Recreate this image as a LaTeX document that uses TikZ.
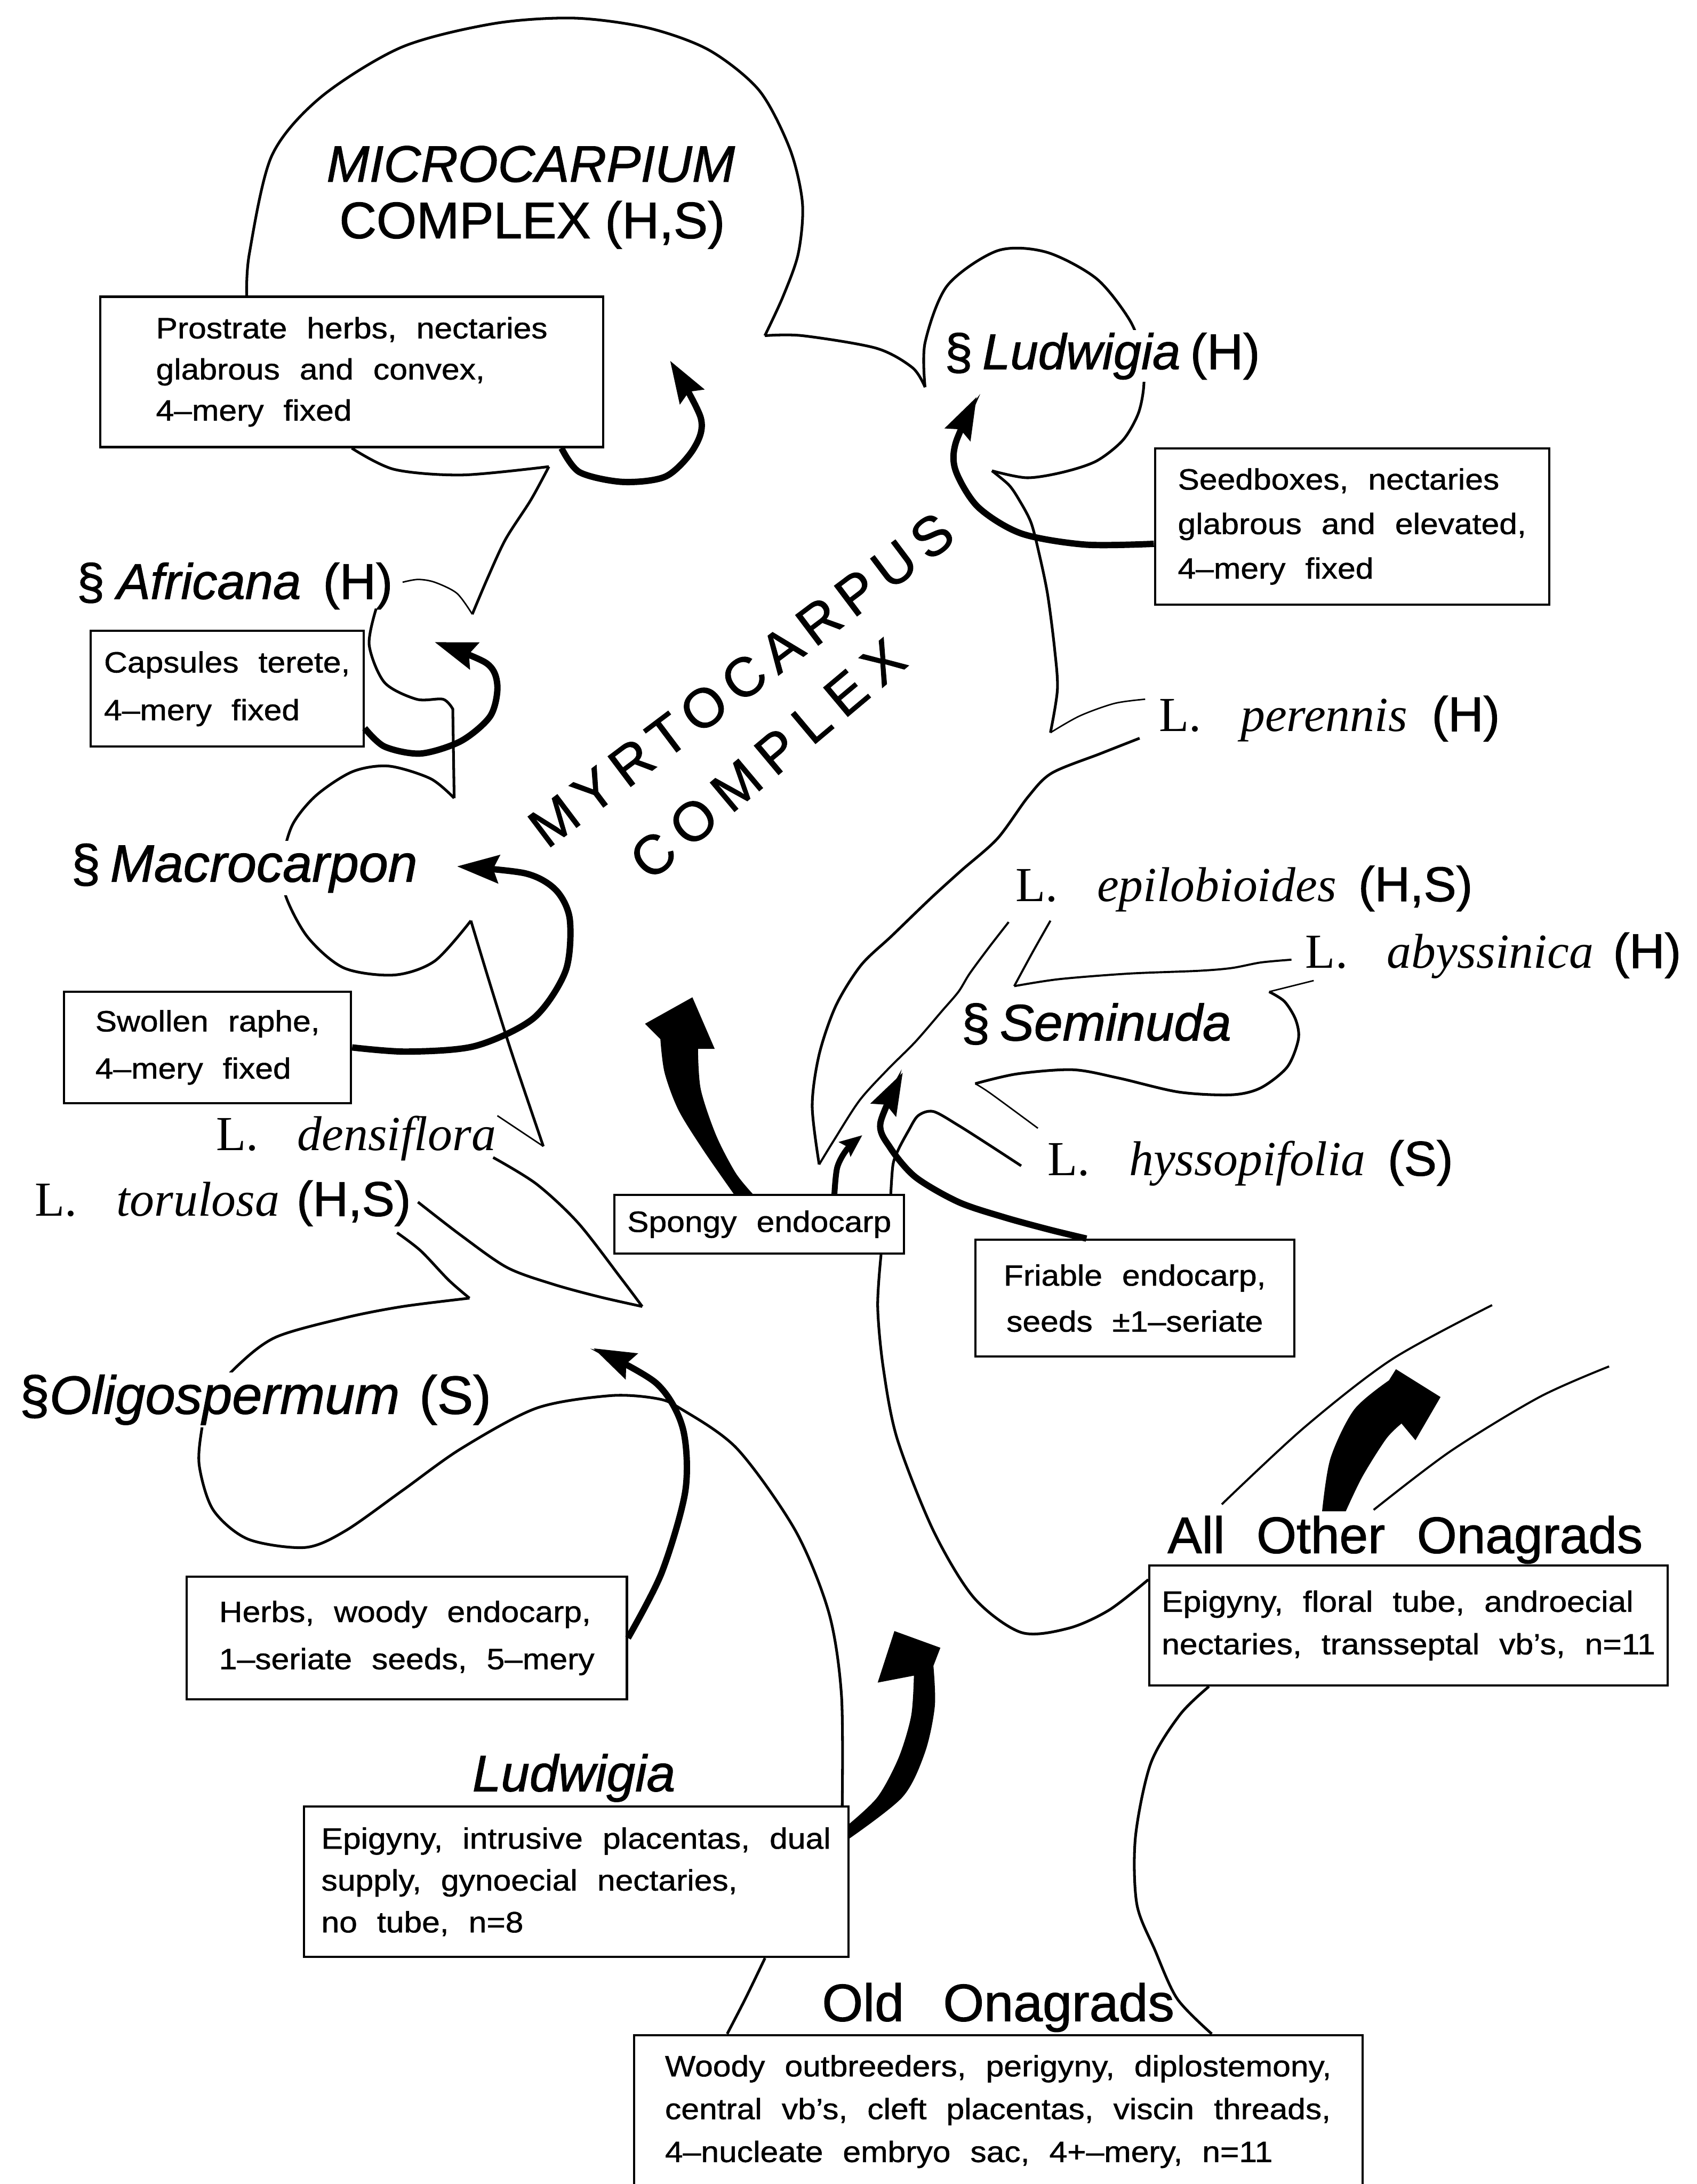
\documentclass[tikz,border=0pt]{standalone}
\usepackage{fontspec}
\setmainfont{Liberation Sans}
\newfontfamily\notefont[FakeStretch=1.1,WordSpace=2.2,FakeBold=1]{Liberation Sans}
\newfontfamily\labelfont[FakeBold=1.2]{Liberation Sans}
\newfontfamily\namefont{Liberation Serif}
\newfontfamily\spacedfont[LetterSpace=16,FakeBold=1.2]{Liberation Sans}
\newfontfamily\widespacedfont[LetterSpace=21,FakeBold=1.2]{Liberation Sans}
\usetikzlibrary{arrows.meta}
\tikzset{
  branch/.style={line width=1.1pt},
  twig/.style={line width=0.6pt},
  fine/.style={line width=0.85pt},
  evol/.style={line width=2.6pt,-{Stealth[length=0.6cm,width=0.4cm,inset=0.08cm]}},
  evolsmall/.style={line width=2.4pt,-{Stealth[length=0.32cm,width=0.26cm,inset=0.05cm]}},
  notebox/.style n args={3}{draw,fill=white,line width=0.9pt,align=left,inner sep=0pt,
    minimum width=#1,minimum height=#2,font=\notefont\fontsize{12}{#3}\selectfont},
  biglabel/.style={anchor=base west,inner sep=1pt},
  namelabel/.style={anchor=base west,inner sep=1pt,font=\namefont\fontsize{20}{24}\selectfont},
}
\begin{document}
\begin{tikzpicture}[x=0.02cm,y=-0.02cm]
\useasboundingbox (0,0) rectangle (1218,1568);

\node[notebox={7.22cm}{2.16cm}{16.8pt}] (prostrate) at (252.5,267) {Prostrate herbs, nectaries\\glabrous and convex,\\4–mery fixed};
\node[notebox={5.66cm}{2.24cm}{18.2pt}] (seedbox) at (970.5,378) {Seedboxes, nectaries\\glabrous and elevated,\\4–mery fixed};
\node[notebox={3.92cm}{1.66cm}{19.5pt}] (capsule) at (163,494.5) {Capsules terete,\\4–mery fixed};
\node[notebox={4.12cm}{1.6cm}{19.3pt}] (swollen) at (149,752) {Swollen raphe,\\4–mery fixed};
\node[notebox={4.16cm}{0.84cm}{17pt}] (spongy) at (545,879) {Spongy endocarp};
\node[notebox={4.58cm}{1.68cm}{18.8pt},align=center] (friable) at (814.5,932) {Friable endocarp,\\seeds ±1–seriate};
\node[notebox={6.32cm}{1.76cm}{19.3pt}] (herbs) at (292,1176) {Herbs, woody endocarp,\\1–seriate seeds, 5–mery};
\node[notebox={7.82cm}{2.16cm}{17.1pt}] (ludbox) at (413.5,1351) {Epigyny, intrusive placentas, dual\\supply, gynoecial nectaries,\\no tube, n=8};
\node[notebox={7.44cm}{1.72cm}{17.4pt}] (allbox) at (1011,1167) {Epigyny, floral tube, androecial\\nectaries, transseptal vb’s, n=11};
\node[notebox={10.46cm}{2.2cm}{17.5pt}] (oldbox) at (716.5,1516) {Woody outbreeders, perigyny, diplostemony,\\central vb’s, cleft placentas, viscin threads,\\4–nucleate embryo sac, 4+–mery, n=11};

% right-hand lineages
\draw[branch] plot[smooth] coordinates {(prostrate.144) (179,182) (195,112) (230,70) (288,34) (354,17) (412,13) (465,20) (509,36) (545,65) (567,107) (576,146) (573,182) (562,213) (549,241)};
\draw[branch] plot[smooth] coordinates {(549,241) (576,241) (629,250) (655,264) (664,278)};
\draw[branch] plot[smooth] coordinates {(664,278) (664,246) (680,205) (716,180) (751,181) (787,200) (811,230) (820,255) (821,277) (817,297) (806,316) (787,331) (763,339) (737,343) (712,338)};
\draw[branch] plot[smooth] coordinates {(712,338) (724,348) (731,358) (740,375) (746,398) (752,427) (757,466) (759,495) (754,526)};
\draw[twig] plot[smooth] coordinates {(754,526) (775,514) (800,505) (822,502)};
\draw[branch] plot[smooth] coordinates {(818,530) (790,541) (755,555) (738,572) (716,602) (690,625) (668,645) (640,672) (618,693) (600,722) (588,757) (583,794) (588,836)};
\draw[fine] plot[smooth] coordinates {(724,662) (710,680) (696,699) (688,712) (676,726) (657,748) (637,768) (617,790) (599,818) (588,836)};
\draw[fine] plot[smooth] coordinates {(754,661) (741,684) (728,708)};
\draw[fine] plot[smooth] coordinates {(728,708) (760,703) (810,699) (860,697) (884,695) (905,691) (927,689)};
\draw[twig] (943,704) -- (911,712);
\draw[branch] plot[smooth] coordinates {(911,712) (922,719) (930,732) (932,746) (924,766) (905,781) (884,786) (846,784) (803,774) (770,768) (730,771) (700,778)};
\draw[twig] plot[smooth] coordinates {(700,778) (711,785) (745,810)};
\draw[branch] plot[smooth] coordinates {(733,837) (710,822) (688,808) (670,798) (659,801) (652,812) (645,825) (641,836) (spongy.13)};
\draw[branch] plot[smooth] coordinates {(spongy.-14) (630,938) (634,982) (644,1033) (670,1099) (699,1147) (733,1172) (767,1169) (796,1156) (allbox.170)};

% left-hand lineages
\draw[branch] plot[smooth] coordinates {(prostrate.south) (283,337) (332,341) (394,335)};
\draw[branch] plot[smooth] coordinates {(394,335) (381,359) (363,387) (350,415) (339,441)};
\draw[twig] plot[smooth] coordinates {(339,441) (328,426) (312,418) (300,416) (289,418)};
\draw[branch] plot[smooth] coordinates {(270,437) (265,463) (276,490) (299,502) (318,502) (325,509)} -- (326,573);
\draw[branch] plot[smooth] coordinates {(326,573) (309,559) (279,550) (253,554) (227,571) (210,592) (203,618) (205,643) (221,673) (247,695) (283,700) (312,690) (338,661)};
\draw[branch] plot[smooth] coordinates {(338,661) (351,704) (367,755) (390,823)};
\draw[twig] (390,823) -- (357,801);
\draw[branch] plot[smooth] coordinates {(354,831) (385,850) (415,878) (446,918) (461,938)};
\draw[branch] plot[smooth] coordinates {(461,938) (430,931) (397,922) (364,910) (331,887) (300,863)};
\draw[branch] plot[smooth] coordinates {(285,885) (302,898) (322,919) (337,932)};
\draw[branch] plot[smooth] coordinates {(337,932) (289,938) (248,946) (198,960) (170,981) (150,1005) (145,1025) (143,1052) (153,1084) (178,1105) (219,1111) (248,1099) (289,1070) (331,1040) (385,1011) (438,1002) (471,1004) (488,1011) (529,1040) (571,1099) (595,1158) (604,1217) (ludbox.16)};

% base of the tree
\draw[branch] plot[smooth] coordinates {(oldbox.164) (535,1435) (ludbox.-22)};
\draw[branch] plot[smooth] coordinates {(oldbox.20) (845,1435) (829,1400) (816,1367) (815,1319) (826,1266) (847,1231) (allbox.-163)};
\draw[fine] plot[smooth] coordinates {(877,1080) (936,1025) (999,976) (1071,937)};
\draw[fine] plot[smooth] coordinates {(986,1084) (1041,1042) (1105,1003) (1155,981)};

% character arrows
\draw[evol] plot[smooth] coordinates {(prostrate.-20) (416,339) (447,346) (478,342) (498,322) (503,300) (481,259)};
\draw[evol] plot[smooth] coordinates {(seedbox.185) (779,391) (733,383) (702,364) (686,338) (686,318) (701,285)};
\draw[evol] plot[smooth] coordinates {(capsule.-16) (276,536) (302,541) (331,532) (352,514) (357,492) (349,476) (312,461)};
\draw[evol] plot[smooth] coordinates {(swollen.east) (292,755) (341,751) (383,731) (406,697) (409,660) (399,639) (377,627) (328,622)};
\draw[evol] plot[smooth] coordinates {(herbs.east) (475,1129) (492,1070) (490,1025) (471,993) (426,968)};
\draw[evol] plot[smooth] coordinates {(friable.129) (754,883) (721,874) (688,863) (657,845) (639,824) (632,806) (648,770)};
\draw[evolsmall] plot[smooth] coordinates {(spongy.22) (601,838) (608,825) (619,815)};
\fill plot[smooth] coordinates {(spongy.130) (505,826) (487,797) (477,770) (474,746)} -- (463,735) -- (497,716) -- (513,753) -- plot[smooth] coordinates {(501,753) (503,782) (514,815) (528,842) (spongy.102)} -- cycle;
\fill plot[smooth] coordinates {(ludbox.12) (630,1290) (645,1262) (654,1232) (656,1203)} -- (630,1208) -- (642,1171) -- (675,1183) -- plot[smooth] coordinates {(670,1196) (671,1225) (664,1258) (648,1290) (ludbox.9)} -- cycle;
\fill plot[smooth] coordinates {(949,1085) (955,1047) (972,1012) (997,991)} -- (1002,983) -- (1034,1003) -- (1016,1034) -- plot[smooth] coordinates {(1006,1022) (995,1033) (978,1060) (966,1085)} -- cycle;

% group names
\node[anchor=base,font=\labelfont\fontsize{21}{25}\selectfont\itshape] (microtitle) at (381,130.5) {MICROCARPIUM};
\node[anchor=base,font=\labelfont\fontsize{21}{25}\selectfont] (microcomplex) at (382,171) {COMPLEX (H,S)};
\node[biglabel,fill=white,font=\labelfont\fontsize{20.5}{24}\selectfont] (ludsect) at (676,265) {§\hspace{4pt}\textit{Ludwigia}\hspace{4pt}(H)};
\node[biglabel,font=\labelfont\fontsize{20.5}{24}\selectfont] (africana) at (53,430) {§\hspace{5pt}\textit{Africana}\hspace{9pt}(H)};
\node[biglabel,fill=white,font=\labelfont\fontsize{21.5}{25}\selectfont] (macrocarpon) at (49,633) {§\hspace{4pt}\textit{Macrocarpon}};
\node[biglabel,fill=white,font=\labelfont\fontsize{22}{26}\selectfont] (oligo) at (12,1015) {§\textit{Oligospermum}\hspace{8pt}(S)};
\node[biglabel,font=\labelfont\fontsize{21}{25}\selectfont] (seminuda) at (688,747) {§\hspace{4pt}\textit{Seminuda}};
\node[biglabel,font=\labelfont\fontsize{21}{25}\selectfont] (ludgenus) at (337,1286) {\textit{Ludwigia}};
\node[biglabel,font=\labelfont\fontsize{21}{25}\selectfont] (allother) at (836,1115) {All\hspace{13pt}Other\hspace{13pt}Onagrads};
\node[biglabel,font=\labelfont\fontsize{21.5}{25}\selectfont] (oldona) at (588,1451) {Old\hspace{16pt}Onagrads};
\node[font=\spacedfont\fontsize{22.5}{26}\selectfont,rotate=37] (myrto) at (532,488) {MYRTOCARPUS};
\node[font=\widespacedfont\fontsize{22.5}{26}\selectfont,rotate=40] (myrtocomplex) at (551,545) {COMPLEX};

% species
\node[namelabel] (perennis) at (830,525) {L.\hspace{16pt}\textit{perennis}\hspace{10pt}{\labelfont (H)}};
\node[namelabel] (epilob) at (727,647) {L.\hspace{16pt}\textit{epilobioides}\hspace{9pt}{\labelfont (H,S)}};
\node[namelabel] (abyss) at (935,695) {L.\hspace{16pt}\textit{abyssinica}\hspace{8pt}{\labelfont (H)}};
\node[namelabel] (hysso) at (750,844) {L.\hspace{16pt}\textit{hyssopifolia}\hspace{9pt}{\labelfont (S)}};
\node[namelabel] (densi) at (153,826) {L.\hspace{16pt}\textit{densiflora}};
\node[namelabel] (torul) at (23,873) {L.\hspace{16pt}\textit{torulosa}\hspace{7pt}{\labelfont (H,S)}};
\end{tikzpicture}
\end{document}
